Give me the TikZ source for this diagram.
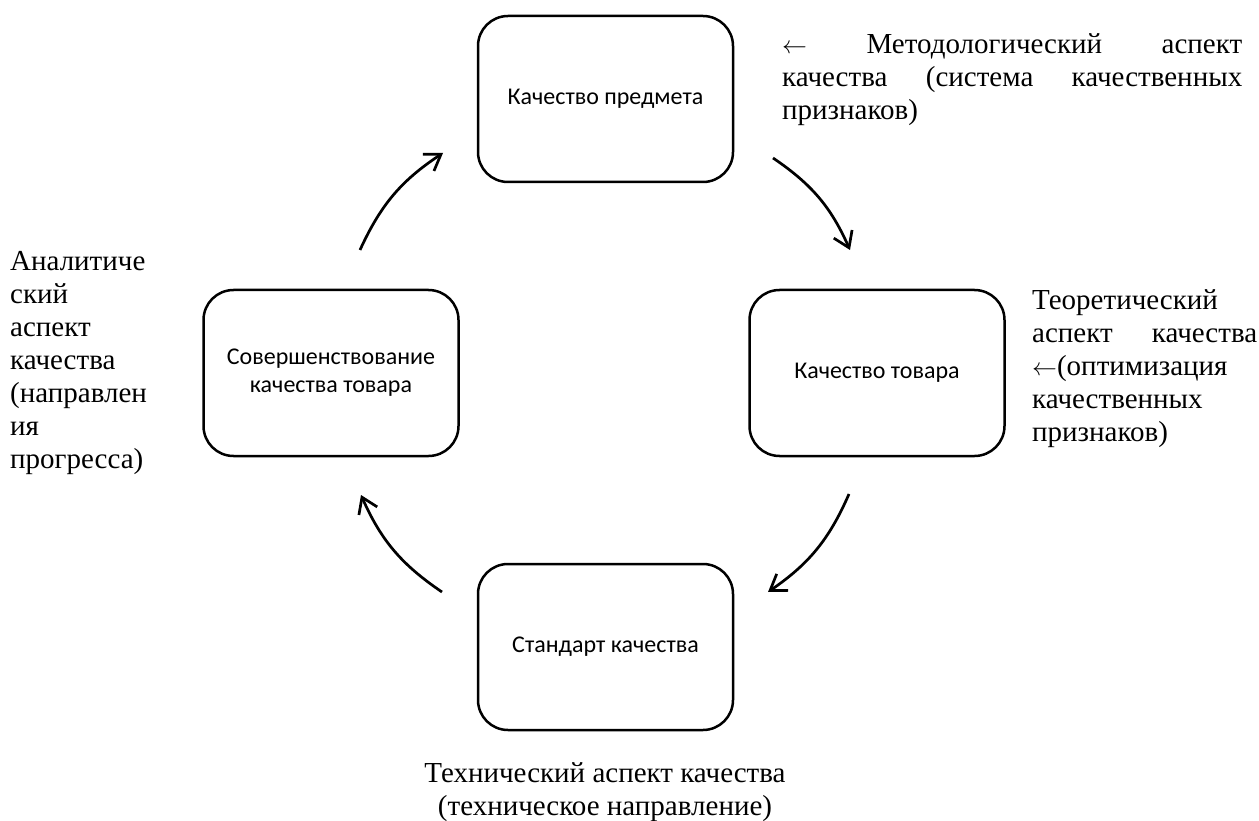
\documentclass[tikz,border=0pt]{standalone}
\usepackage{fontspec}
\setmainfont{Liberation Serif}
\newfontfamily\boxfont{Carlito}
\usetikzlibrary{arrows.meta}
\begin{document}
\begin{tikzpicture}[x=1pt,y=-1pt,
  stagebox/.style={draw, line width=2.5pt, rounded corners=30pt,
    minimum width=255pt, minimum height=166pt, align=center,
    font=\boxfont\fontsize{24}{28}\selectfont},
  aspect/.style={anchor=north west, inner sep=0pt, align=left,
    font=\fontsize{29}{33}\selectfont},
  flow/.style={line width=2.7pt, -{Straight Barb[length=15pt,width=20pt,line width=2.7pt]}}]
\useasboundingbox (0,0) rectangle (1259,821);

\node[stagebox] (top) at (605.5,99) {Качество предмета};
\node[stagebox] (right) at (877,373) {Качество товара};
\node[stagebox] (bottom) at (605.5,647) {Стандарт качества};
\node[stagebox] (left) at (331,373) {Совершенствование\\качества товара};

\coordinate (a1s) at (360,250); \coordinate (a1e) at (443,153);
\coordinate (a2s) at (773,158); \coordinate (a2e) at (850,250);
\coordinate (a3s) at (849,494); \coordinate (a3e) at (768,592);
\coordinate (a4s) at (442,592); \coordinate (a4e) at (361,495);

\draw[flow] (a1s) to[bend left=16] (a1e);
\draw[flow] (a2s) to[bend left=16] (a2e);
\draw[flow] (a3s) to[bend left=16] (a3e);
\draw[flow] (a4s) to[bend left=16] (a4e);

\node[aspect] (tmeth) at (782,30) {\strut\makebox[460pt][s]{$\leftarrow$ Методологический аспект}\\\makebox[460pt][s]{качества (система качественных}\\признаков)};
\node[aspect] (ttheo) at (1032,286) {\strut Теоретический\\\makebox[225pt][s]{аспект качества}\\$\leftarrow$(оптимизация\\качественных\\признаков)};
\node[aspect] (tanal) at (10,247) {\strut Аналитиче\\ский\\аспект\\качества\\(направлен\\ия\\прогресса)};
\node[aspect, anchor=north, align=center] (ttech) at (605,759) {\strut Технический аспект качества\\(техническое направление)};
\end{tikzpicture}
\end{document}
